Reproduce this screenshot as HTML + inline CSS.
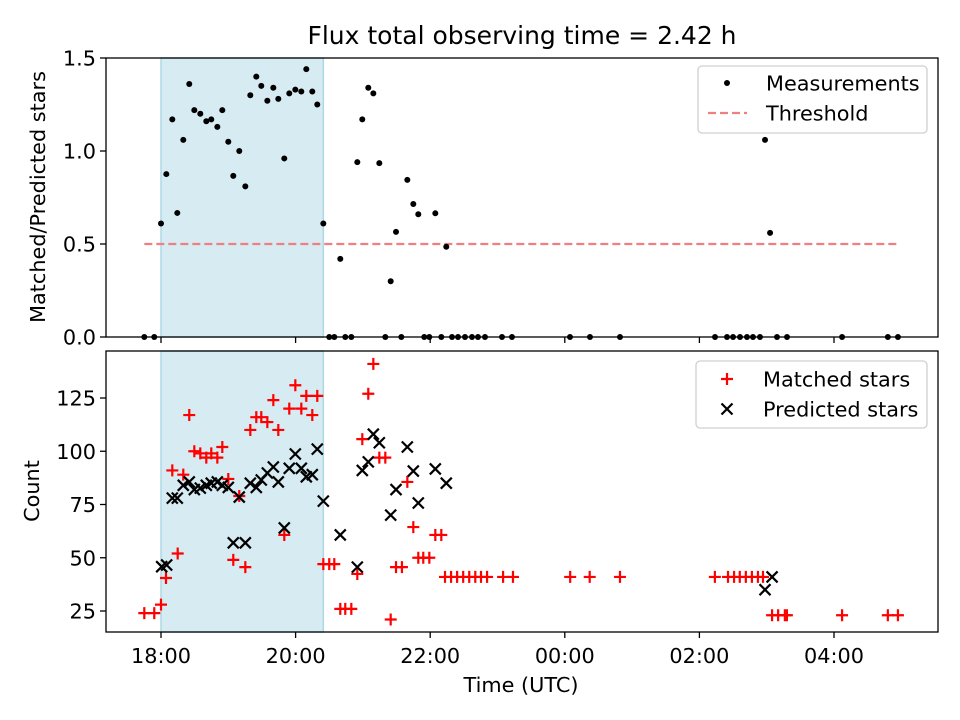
<!DOCTYPE html>
<html><head><meta charset="utf-8"><style>
html,body{margin:0;padding:0;background:#fff;}
svg{display:block;font-family:"DejaVu Sans","Liberation Sans",sans-serif;}
</style></head><body>
<svg id="chart" width="960" height="720" viewBox="0 0 960 720" xmlns="http://www.w3.org/2000/svg">
<rect x="0" y="0" width="960" height="720" fill="#fff"/>
<g id="topPanel"></g>
<g id="botPanel"></g>
</svg>
<script>
// Time in hours after 18:00 UTC
const measTimes=[-0.248,-0.10,0.00,0.079,0.168,0.242,0.331,0.42,0.495,0.584,0.673,0.747,0.837,0.911,1.00,1.074,1.163,1.253,1.327,1.416,1.49,1.58,1.669,1.743,1.832,1.906,1.996,2.085,2.159,2.248,2.322,2.412,2.50,2.575,2.664,2.738,2.828,2.917,2.991,3.08,3.155,3.244,3.333,3.413,3.492,3.571,3.66,3.749,3.823,3.912,3.987,4.076,4.165,4.239,4.324,4.413,4.517,4.621,4.71,4.814,5.067,5.215,6.077,6.374,6.82,8.232,8.41,8.5,8.603,8.707,8.796,8.9,8.975,9.05,9.153,9.302,10.12,10.80,10.95];
const measValues=[0,0,0.61,0.876,1.17,0.667,1.06,1.36,1.22,1.20,1.16,1.17,1.13,1.22,1.05,0.866,1.00,0.81,1.30,1.40,1.35,1.27,1.34,1.28,0.96,1.31,1.33,1.32,1.44,1.32,1.25,0.61,0,0,0.42,0,0,0.94,1.17,1.34,1.31,0.935,0,0.30,0.565,0,0.845,0.715,0.66,0,0,0.665,0,0.485,0,0,0,0,0,0,0,0,0,0,0,0,0,0,0,0,0,0,1.06,0.56,0,0,0,0,0];
const threshold=0.5;
const matchedTimes=[-0.248,-0.10,0.00,0.074,0.248,0.168,0.331,0.42,0.495,0.584,0.673,0.747,0.837,0.911,1.0,1.074,1.163,1.253,1.327,1.416,1.49,1.58,1.669,1.743,1.832,1.906,1.996,2.085,2.159,2.248,2.322,2.412,2.50,2.575,2.664,2.738,2.828,2.917,2.991,3.08,3.155,3.244,3.333,3.413,3.492,3.58,3.66,3.749,3.823,3.897,3.987,4.076,4.165,4.22,4.31,4.40,4.49,4.58,4.67,4.755,4.845,5.083,5.23,6.08,6.37,6.82,8.23,8.425,8.515,8.60,8.69,8.78,8.87,8.945,9.08,9.17,9.27,9.30,10.12,10.80,10.95];
const matchedCounts=[24,24,28,40.5,52,91,89,117,100,99,97,99,97,102,87,49,79,45.6,110,116,116,113.7,124,110,60.7,120,131,120,126,117,126,47,47,47,26,26,26,42.4,105.7,127,141,97,97,21,45.6,45.6,85.6,64.4,50,50,50,60.7,60.7,41,41,41,41,41,41,41,41,41,41,41,41,41,41,41,41,41,41,41,41,41,23,23,23,23,23,23,23];
const predTimes=[0.01,0.084,0.168,0.242,0.331,0.42,0.495,0.584,0.673,0.747,0.837,0.911,1.0,1.074,1.163,1.253,1.327,1.416,1.49,1.58,1.669,1.743,1.832,1.906,1.996,2.085,2.159,2.248,2.322,2.412,2.664,2.917,2.991,3.08,3.155,3.244,3.413,3.492,3.66,3.749,3.823,4.076,4.239,8.975,9.08];
const predCounts=[45.8,46.6,78,78,84,85.6,82,82.7,84,85,85.6,84,83,57,78.5,57,85,83,86.5,89.8,92.6,85.6,64,92,98.7,92,88,89,101,76.6,60.7,45.6,91,95,108,104,70,82,102,90.7,75.7,91.7,85,35,41];
const xTickHours=[0,2,4,6,8,10];
const xTickLabels=["18:00","20:00","22:00","00:00","02:00","04:00"];
const topTicks=[0,0.5,1.0,1.5];
const topTickLabels=["0.0","0.5","1.0","1.5"];
const botTicks=[25,50,75,100,125];
const shadeRange=[0,2.412];

const NS="http://www.w3.org/2000/svg";
const L=106,R=938;
const FS=20.8;
const xS=t=>161+t*67.3;
const yTop=v=>337-v*186;
const yBot=c=>611-(c-25)*2.13;
function mk(parent,tag,attrs,text){const e=document.createElementNS(NS,tag);for(const k in attrs)e.setAttribute(k,attrs[k]);if(text!==undefined)e.textContent=text;parent.appendChild(e);return e;}

function panel(g,y0,y1,yf,ticks,labels,showX){
  const sh=mk(g,'rect',{x:xS(shadeRange[0]),y:y0,width:xS(shadeRange[1])-xS(shadeRange[0]),height:y1-y0,fill:'#add8e6','fill-opacity':0.5,stroke:'#add8e6','stroke-width':1.5});
  
  
  ticks.forEach((v,i)=>{
    const y=yf(v);
    mk(g,'line',{x1:L-6,x2:L,y1:y,y2:y,stroke:'#000','stroke-width':1.3});
    const t=mk(g,'text',{x:L-10,y:y+7.5,'text-anchor':'end','font-size':FS},labels[i]);
    
    
  });
  xTickHours.forEach((h,i)=>{
    const x=xS(h);
    mk(g,'line',{x1:x,x2:x,y1:y1,y2:y1+6,stroke:'#000','stroke-width':1.3});
    if(showX){const t=mk(g,'text',{x:x,y:y1+31,'text-anchor':'middle','font-size':FS},xTickLabels[i]);
      
      }
  });
}
const topG=document.getElementById('topPanel'), botG=document.getElementById('botPanel');
panel(topG,58,337,yTop,topTicks,topTickLabels,false);
panel(botG,351,632,yBot,botTicks,botTicks.map(String),true);

const tmin=Math.min(...measTimes),tmax=Math.max(...measTimes);
const th=mk(topG,'line',{x1:xS(tmin),x2:xS(tmax),y1:yTop(threshold),y2:yTop(threshold),stroke:'#f08080','stroke-width':2.2,'stroke-dasharray':'8,4'});


measTimes.forEach((t,i)=>{
  const c=mk(topG,'circle',{cx:xS(t),cy:yTop(measValues[i]),r:3,fill:'#000'});
  
  
});
matchedTimes.forEach((t,i)=>{
  const x=xS(t),y=yBot(matchedCounts[i]);
  const p=mk(botG,'path',{d:`M${x-6},${y}H${x+6}M${x},${y-6}V${y+6}`,stroke:'#ff0000','stroke-width':2.2,fill:'none'});
  
  
});
predTimes.forEach((t,i)=>{
  const x=xS(t),y=yBot(predCounts[i]);
  const p=mk(botG,'path',{d:`M${x-5.5},${y-5.5}L${x+5.5},${y+5.5}M${x-5.5},${y+5.5}L${x+5.5},${y-5.5}`,stroke:'#000','stroke-width':2.2,fill:'none'});
  
  
});
[[topG,58,337],[botG,351,632]].forEach(([g,a,b])=>{
  const f=mk(g,'rect',{x:L,y:a,width:R-L,height:b-a,fill:'none',stroke:'#000','stroke-width':1.3});
  
  
});
const lg1=mk(topG,'g',{});


mk(lg1,'rect',{x:698,y:66,width:229,height:67,rx:4,fill:'#fff','fill-opacity':0.8,stroke:'#d0d0d0','stroke-width':1.3});
mk(lg1,'circle',{cx:727,cy:83,r:3,fill:'#000'});
mk(lg1,'text',{x:766,y:90.5,'font-size':FS},'Measurements');
mk(lg1,'line',{x1:708,x2:747,y1:113,y2:113,stroke:'#f08080','stroke-width':2.2,'stroke-dasharray':'8,4'});
mk(lg1,'text',{x:766,y:120.5,'font-size':FS},'Threshold');
const lg2=mk(botG,'g',{});


mk(lg2,'rect',{x:696,y:361,width:231,height:67,rx:4,fill:'#fff','fill-opacity':0.8,stroke:'#d0d0d0','stroke-width':1.3});
mk(lg2,'path',{d:'M721,379H733M727,373V385',stroke:'#f00','stroke-width':2.2});
mk(lg2,'text',{x:763,y:386.5,'font-size':FS},'Matched stars');
mk(lg2,'path',{d:'M721.5,403.5L732.5,414.5M721.5,414.5L732.5,403.5',stroke:'#000','stroke-width':2.2});
mk(lg2,'text',{x:763,y:416.5,'font-size':FS},'Predicted stars');
const svgEl=document.getElementById('chart');
const tt=mk(svgEl,'text',{x:522,y:44,'text-anchor':'middle','font-size':25},'Flux total observing time = 2.42 h');


const xl=mk(svgEl,'text',{x:521,y:692,'text-anchor':'middle','font-size':FS},'Time (UTC)');


const yt1=mk(svgEl,'text',{x:0,y:0,'text-anchor':'middle','font-size':FS,transform:'translate(45,197) rotate(-90)'},'Matched/Predicted stars');


const yt2=mk(svgEl,'text',{x:0,y:0,'text-anchor':'middle','font-size':FS,transform:'translate(39,491) rotate(-90)'},'Count');


</script>
</body></html>
